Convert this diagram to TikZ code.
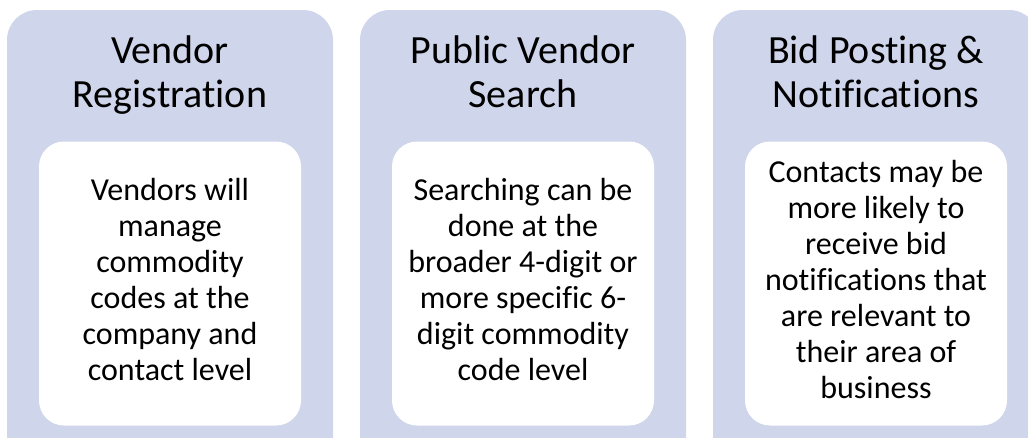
\documentclass[tikz,border=0pt]{standalone}
\usepackage{fontspec}
\setmainfont[Ligatures=NoCommon]{Carlito}
\definecolor{panelfill}{HTML}{CFD5EA}
\begin{document}
\begin{tikzpicture}[x=1pt,y=-1pt,
  panel/.style={rectangle,fill=panelfill,draw=none,rounded corners=30pt,
    minimum width=326pt,minimum height=460pt,inner sep=0pt},
  card/.style={rectangle,fill=white,draw=none,rounded corners=25pt,
    minimum width=262pt,minimum height=284pt,inner sep=2pt,align=center,
    font=\fontsize{32}{36}\selectfont,text=black},
  title/.style={align=center,font=\fontsize{40}{44}\selectfont,text=black,inner sep=0pt}]
\useasboundingbox (0,0) rectangle (1028,437);
\clip (0,0) rectangle (1028,437);
% panels
\node[panel] (p1) at (170,240) {};
\node[panel] (p2) at (523,240) {};
\node[panel] (p3) at (876,240) {};
% titles
\node[title] (t1) at (170,77) {\strut Vendor\\\strut Registration};
\node[title] (t2) at (523,77) {\strut Public Vendor\\\strut Search};
\node[title] (t3) at (876,77) {\strut Bid Posting \&\\\strut Notifications};
% cards
\node[card] (c1) at (170,283.5) {\strut Vendors will\\\strut manage\\\strut commodity\\\strut codes at the\\\strut company and\\\strut contact level};
\node[card] (c2) at (523,283.5) {\strut Searching can be\\\strut done at the\\\strut broader 4-digit or\\\strut more specific 6-\\\strut digit commodity\\\strut code level};
\node[card] (c3) at (876,283.5) {\strut Contacts may be\\\strut more likely to\\\strut receive bid\\\strut notifications that\\\strut are relevant to\\\strut their area of\\\strut business};
\end{tikzpicture}
\end{document}
